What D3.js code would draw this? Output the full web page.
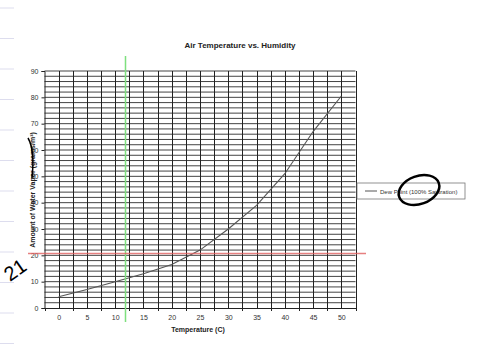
<!DOCTYPE html>
<html><head><meta charset="utf-8">
<script src="https://cdn.jsdelivr.net/npm/d3@7"></script>
<style>body{margin:0;background:#fff}svg{display:block}text{font-family:Arial,"Liberation Sans",sans-serif}</style>
</head><body><svg id="c" width="480" height="360"></svg>
<script>
const temps = [0, 5, 10, 15, 20, 25, 30, 35, 40, 45, 50];
const dewPoint = [4.3, 7, 10, 13, 16.5, 22, 30, 39, 51, 67, 80.5];
const yTicks = [0, 10, 20, 30, 40, 50, 60, 70, 80, 90];
const seriesName = "Dew Point (100% Saturation)";

const svg = d3.select("#c");
const L = 44.5, R = 355.5, T = 71, B = 308;
const x = d3.scalePoint().domain(temps).range([L, R]).padding(0.5);
const y = d3.scaleLinear().domain([0, 90]).range([B, T]);

// notebook margin lines
svg.append("g").selectAll("line").data(d3.range(0, 360, 30.5)).join("line")
  .attr("x1", 0).attr("x2", 14).attr("y1", d => d + 8).attr("y2", d => d + 8)
  .attr("stroke", "#dde").attr("stroke-width", 1);

// horizontal grid lines every 2 units
svg.append("g").selectAll("line").data(d3.range(2, 91, 2)).join("line")
  .attr("x1", L).attr("x2", R).attr("y1", d => y(d)).attr("y2", d => y(d))
  .attr("stroke", "#444").attr("stroke-width", 1);

// vertical grid lines every half category
const step = x.step();
const vx = d3.range(0, temps.length * 2 + 1).map(i => L + i * step / 2);
svg.append("g").selectAll("line").data(vx.slice(1)).join("line")
  .attr("x1", d => Math.round(d) + 0.5).attr("x2", d => Math.round(d) + 0.5).attr("y1", T).attr("y2", B)
  .attr("stroke", "#222").attr("stroke-width", 1);

// axes
const yAxis = d3.axisLeft(y).tickValues(yTicks).tickSize(3).tickPadding(3);
const gy = svg.append("g").attr("transform", `translate(${L},0)`).call(yAxis);
const xAxis = d3.axisBottom(x).tickSize(0).tickPadding(7);
const gx = svg.append("g").attr("transform", `translate(0,${B})`).call(xAxis);
[gy, gx].forEach(g => {
  g.select(".domain").attr("stroke", "#222");
  g.selectAll("line").attr("stroke", "#222");
  g.selectAll("text").attr("font-size", 7).attr("fill", "#333").attr("font-family", "Arial, Liberation Sans, sans-serif");
});
// x boundary ticks
svg.append("g").selectAll("line").data(vx.filter((d, i) => i % 2 === 0)).join("line")
  .attr("x1", d => Math.round(d) + 0.5).attr("x2", d => Math.round(d) + 0.5).attr("y1", B).attr("y2", B + 3)
  .attr("stroke", "#222");

// series line
svg.append("path").datum(temps.map((t, i) => [t, dewPoint[i]]))
  .attr("fill", "none").attr("stroke", "#555").attr("stroke-width", 1.1)
  .attr("d", d3.line().x(d => x(d[0])).y(d => y(d[1])));

// title & labels
svg.append("text").attr("x", 240).attr("y", 48).attr("text-anchor", "middle")
  .attr("font-size", 8).attr("font-weight", "bold").attr("fill", "#222").text("Air Temperature vs. Humidity");
svg.append("text").attr("x", 198).attr("y", 332).attr("text-anchor", "middle")
  .attr("font-size", 7).attr("font-weight", "bold").attr("fill", "#222").text("Temperature (C)");
svg.append("text").attr("transform", "translate(35,190) rotate(-90)").attr("text-anchor", "middle")
  .attr("font-size", 7).attr("font-weight", "bold").attr("fill", "#222").text("Amount of Water Vapor (grams/m³)");

// legend
const lg = svg.append("g").attr("transform", "translate(357,183)");
lg.append("rect").attr("width", 108).attr("height", 16).attr("fill", "#fff").attr("stroke", "#777").attr("stroke-width", 0.8);
lg.append("line").attr("x1", 8).attr("x2", 20).attr("y1", 8).attr("y2", 8).attr("stroke", "#555");
lg.append("text").attr("x", 23).attr("y", 10.5).attr("font-size", 6).attr("fill", "#333").text(seriesName);

// hand annotations
svg.append("line").attr("x1", 125.5).attr("x2", 125.5).attr("y1", 56).attr("y2", 322)
  .attr("stroke", "#7ee07e").attr("stroke-width", 1.5);
svg.append("line").attr("x1", 28).attr("x2", 366).attr("y1", 253.5).attr("y2", 253.5)
  .attr("stroke", "#e06060").attr("stroke-width", 1.5).attr("stroke-opacity", 0.8);
svg.append("ellipse").attr("cx", 419).attr("cy", 190).attr("rx", 21).attr("ry", 14)
  .attr("transform", "rotate(-20,419,190)").attr("fill", "none").attr("stroke", "#000").attr("stroke-width", 2.5);
svg.append("text").attr("transform", "translate(10,282) rotate(-35)").attr("font-size", 20)
  .attr("font-family", "DejaVu Sans").attr("fill", "#000").text("21");
svg.append("path").attr("d", "M28,138 Q35,150 32,178").attr("fill", "none").attr("stroke", "#000").attr("stroke-width", 1.5);
</script></body></html>
